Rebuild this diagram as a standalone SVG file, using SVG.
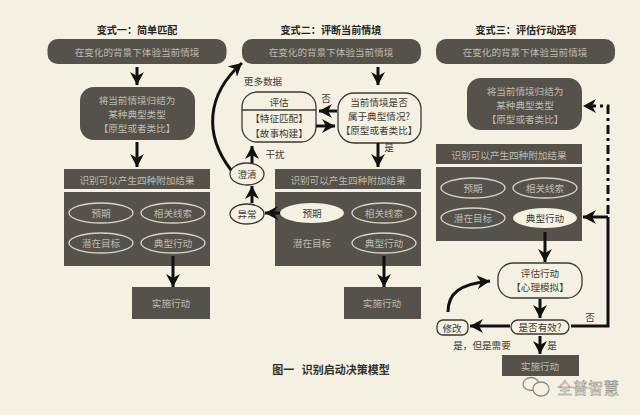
<svg xmlns="http://www.w3.org/2000/svg" width="640" height="415" viewBox="0 0 640 415">
<style>
text{font-family:"Noto Sans CJK SC","Liberation Sans",sans-serif;text-anchor:middle;dominant-baseline:central;font-size:9.600px}
.d{fill:#55524b}
.l{fill:#bdbbaf}
.k{fill:#3d3b36}
.t{fill:#262522;font-size:10.100px;font-weight:700}
.o{fill:none;stroke:#d8d5c8;stroke-width:1.3}
.w{fill:#f4f1e2;stroke:#3a3834;stroke-width:1.3}
.f{fill:#f4f1e2}
.c{fill:none;stroke:#111;stroke-width:3}
</style>
<defs>
<marker id="a" markerUnits="userSpaceOnUse" markerWidth="16" markerHeight="14" refX="13" refY="7" orient="auto"><path d="M0 0L13 7L0 14L4 7Z" fill="#111"/></marker>
</defs>
<rect width="640" height="415" fill="#f4f1e2"/>
<g id="v1">
<text class="t" x="137" y="29">变式一：简单匹配</text>
<g id="v1-situation"><rect class="d" x="47.500" y="39" width="179" height="25" rx="10"/><text class="l" x="137" y="51.500">在变化的背景下体验当前情境</text></g>
<g id="v1-classify"><rect class="d" x="80" y="87" width="115" height="53" rx="14"/><text class="l" x="137" y="100">将当前情境归结为</text><text class="l" x="137" y="114">某种典型类型</text><text class="l" x="137" y="128">【原型或者类比】</text></g>
<g id="v1-band"><rect class="d" x="64" y="169" width="146" height="20"/><text class="l" x="137" y="180">识别可以产生四种附加结果</text></g>
<g id="v1-results"><rect class="d" x="64" y="192" width="146" height="74"/>
<ellipse class="o" cx="101" cy="213" rx="32" ry="10"/><text class="l" x="101" y="213">预期</text>
<ellipse class="o" cx="173" cy="213" rx="32" ry="10"/><text class="l" x="173" y="213">相关线索</text>
<ellipse class="o" cx="101" cy="243" rx="32" ry="10"/><text class="l" x="101" y="243">潜在目标</text>
<ellipse class="o" cx="173" cy="243" rx="32" ry="10"/><text class="l" x="173" y="243">典型行动</text></g>
<g id="v1-act"><rect class="d" x="132" y="287" width="78" height="32"/><text class="l" x="171" y="303">实施行动</text></g>
</g>
<g id="v2">
<text class="t" x="331" y="29">变式二：评断当前情境</text>
<g id="v2-situation"><rect class="d" x="242" y="39" width="179" height="25" rx="10"/><text class="l" x="331" y="51.500">在变化的背景下体验当前情境</text></g>
<text class="k" x="263" y="81">更多数据</text>
<g id="v2-eval"><rect class="w" x="242" y="92" width="74" height="50" rx="15"/><path d="M242 110H316" stroke="#3a3834" stroke-width="1.300"/><text class="k" x="279" y="102">评估</text><text class="k" x="279" y="118">【特征匹配】</text><text class="k" x="279" y="133">【故事构建】</text></g>
<text class="k" x="326" y="98">否</text>
<g id="v2-question"><rect class="w" x="338" y="93" width="83" height="50" rx="16"/><text class="k" x="379" y="102">当前情境是否</text><text class="k" x="379" y="116">属于典型情况?</text><text class="k" x="379" y="130">【原型或者类比】</text></g>
<text class="k" x="389" y="147">是</text>
<text class="k" x="275" y="154">干扰</text>
<g id="v2-clarify"><ellipse class="w" cx="247" cy="174" rx="17" ry="11"/><text class="k" x="247" y="174">澄清</text></g>
<g id="v2-anomaly"><ellipse class="w" cx="247" cy="214" rx="17" ry="10"/><text class="k" x="247" y="214">异常</text></g>
<g id="v2-band"><rect class="d" x="275" y="169" width="146" height="20"/><text class="l" x="348" y="180">识别可以产生四种附加结果</text></g>
<g id="v2-results"><rect class="d" x="275" y="192" width="146" height="74"/>
<ellipse class="f" cx="312" cy="213" rx="32" ry="10"/><text class="k" x="312" y="213">预期</text>
<ellipse class="o" cx="384" cy="213" rx="32" ry="10"/><text class="l" x="384" y="213">相关线索</text>
<text class="l" x="312" y="243">潜在目标</text>
<ellipse class="o" cx="384" cy="243" rx="32" ry="10"/><text class="l" x="384" y="243">典型行动</text></g>
<g id="v2-act"><rect class="d" x="344" y="287" width="77" height="32"/><text class="l" x="382" y="303">实施行动</text></g>
</g>
<g id="v3">
<text class="t" x="526" y="29">变式三：评估行动选项</text>
<g id="v3-situation"><rect class="d" x="436" y="39" width="179" height="25" rx="10"/><text class="l" x="525" y="51.500">在变化的背景下体验当前情境</text></g>
<g id="v3-classify"><rect class="d" x="467" y="78" width="115" height="52" rx="14"/><text class="l" x="525" y="91">将当前情境归结为</text><text class="l" x="525" y="105">某种典型类型</text><text class="l" x="525" y="119">【原型或者类比】</text></g>
<g id="v3-band"><rect class="d" x="436" y="144" width="146" height="20"/><text class="l" x="509" y="155">识别可以产生四种附加结果</text></g>
<g id="v3-results"><rect class="d" x="436" y="167" width="146" height="74"/>
<ellipse class="o" cx="473" cy="188" rx="32" ry="10"/><text class="l" x="473" y="188">预期</text>
<ellipse class="o" cx="545" cy="188" rx="32" ry="10"/><text class="l" x="545" y="188">相关线索</text>
<ellipse class="o" cx="473" cy="218" rx="32" ry="10"/><text class="l" x="473" y="218">潜在目标</text>
<ellipse class="f" cx="545" cy="218" rx="32" ry="10"/><text class="k" x="545" y="218">典型行动</text></g>
<g id="v3-eval"><rect class="w" x="498" y="263" width="84" height="35" rx="15"/><text class="k" x="540" y="273">评估行动</text><text class="k" x="540" y="287">【心理模拟】</text></g>
<g id="v3-valid"><rect class="w" x="511" y="320" width="58" height="14" rx="7"/><text class="k" x="540" y="327">是否有效?</text></g>
<g id="v3-modify"><rect class="w" x="437" y="320" width="31" height="15" rx="6"/><text class="k" x="452" y="327.500">修改</text></g>
<text class="k" x="590" y="317">否</text>
<text class="k" x="482" y="345">是，但是需要</text>
<text class="k" x="552" y="345">是</text>
<g id="v3-act"><rect class="d" x="502" y="355" width="77" height="21"/><text class="l" x="540" y="366">实施行动</text></g>
</g>
<text id="caption" x="331" y="369" fill="#33312d" font-weight="700" style="font-size:11px" xml:space="preserve">图一   识别启动决策模型</text>
<g id="watermark">
<ellipse cx="531" cy="384" rx="8" ry="6.500" fill="#f4f1e2" stroke="#8b8a83" stroke-width="1.300"/>
<ellipse cx="541" cy="389" rx="8" ry="7" fill="#f4f1e2" stroke="#8b8a83" stroke-width="1.300"/>
<text x="588" y="387" fill="#fbfaf2" stroke="#8b8a83" stroke-width=".5" style="font-size:15.500px">全普智慧</text>
</g>
<g id="connectors">
<path class="c" marker-end="url(#a)" d="M137 67V85"/>
<path class="c" marker-end="url(#a)" d="M137 142V167"/>
<path class="c" marker-end="url(#a)" d="M173 256V287"/>
<path class="c" marker-end="url(#a)" d="M378 67V85"/>
<path class="c" marker-end="url(#a)" d="M378 143V167"/>
<path class="c" marker-end="url(#a)" d="M384 256V287"/>
<path class="c" marker-end="url(#a)" d="M337 111H319"/>
<path class="c" marker-end="url(#a)" d="M316 126H335"/>
<path class="c" marker-end="url(#a)" d="M252 163V146"/>
<path class="c" marker-end="url(#a)" d="M252 203V186"/>
<path class="c" marker-end="url(#a)" d="M280 213H265"/>
<path class="c" marker-end="url(#a)" d="M231 170C204 135 206 95 242 63"/>
<path class="c" marker-end="url(#a)" d="M545 232V262"/>
<path class="c" marker-end="url(#a)" d="M608 217H583"/>
<path class="c" d="M571 326H608V217"/>
<path class="c" stroke-width="3.500" stroke-dasharray="9 4 3 4" marker-end="url(#a)" d="M608 214V106H583"/>
<path class="c" marker-end="url(#a)" d="M540 299V318"/>
<path class="c" marker-end="url(#a)" d="M510 326H470"/>
<path class="c" marker-end="url(#a)" d="M540 336V354"/>
<path class="c" stroke-width="3.500" marker-end="url(#a)" d="M448 312C448 293 460 284 490 281"/>
</g>
</svg>
